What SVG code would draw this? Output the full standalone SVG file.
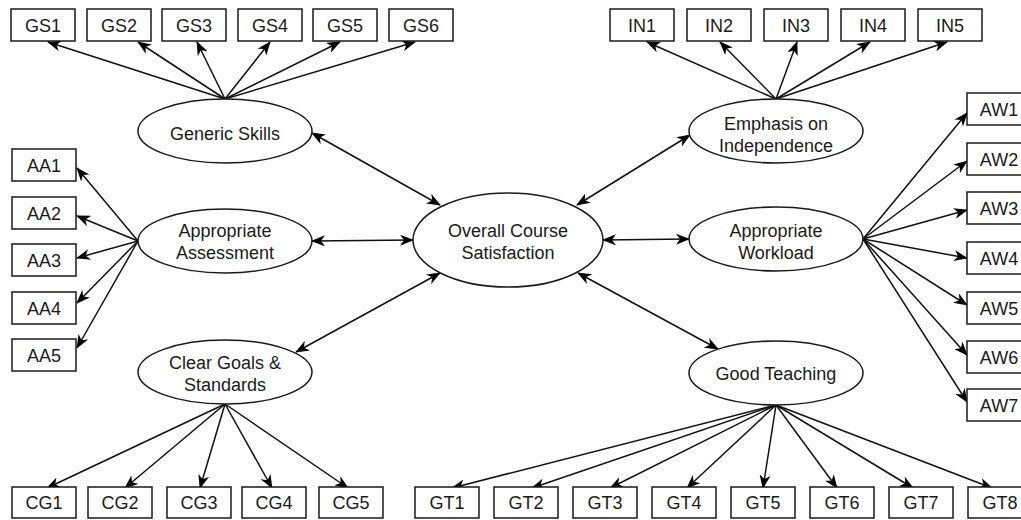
<svg xmlns="http://www.w3.org/2000/svg" width="1021" height="520" viewBox="0 0 1021 520">
<style>
.box{fill:#fff;stroke:#1a1a1a;stroke-width:1.5}
.ell{fill:#fff;stroke:#1a1a1a;stroke-width:1.5}
.t{font-family:"Liberation Sans",Arial,sans-serif;font-size:18px;fill:#1a1a1a;text-anchor:middle}
.c{stroke:#111;stroke-width:1.5;fill:none;marker-end:url(#ah)}
.b{stroke:#111;stroke-width:1.5;fill:none;marker-end:url(#ah);marker-start:url(#ah)}
</style>
<defs>
<marker id="ah" viewBox="0 0 14 11" refX="13" refY="5.5" markerWidth="14" markerHeight="11" orient="auto-start-reverse" markerUnits="userSpaceOnUse">
<path d="M0,0 L14,5.5 L0,11 L4,5.5 Z" fill="#000"/>
</marker>
</defs>
<rect width="1021" height="520" fill="#fff"/>
<g id="connectors">
<path class="c" d="M225,99 L48,42"/>
<path class="c" d="M225,99 L138,42"/>
<path class="c" d="M225,99 L197,42"/>
<path class="c" d="M225,99 L270,42"/>
<path class="c" d="M225,99 L340,42"/>
<path class="c" d="M225,99 L415,42"/>
<path class="c" d="M776,99 L647,42"/>
<path class="c" d="M776,99 L720,42"/>
<path class="c" d="M776,99 L797,42"/>
<path class="c" d="M776,99 L870,42"/>
<path class="c" d="M776,99 L947,42"/>
<path class="c" d="M138,241 L77,168"/>
<path class="c" d="M138,241 L77,216"/>
<path class="c" d="M138,241 L77,258"/>
<path class="c" d="M138,241 L77,303"/>
<path class="c" d="M138,241 L77,348"/>
<path class="c" d="M863,239 L967,113"/>
<path class="c" d="M863,239 L967,161"/>
<path class="c" d="M863,239 L967,210"/>
<path class="c" d="M863,239 L967,258"/>
<path class="c" d="M863,239 L967,305"/>
<path class="c" d="M863,239 L967,355"/>
<path class="c" d="M863,239 L967,402"/>
<path class="c" d="M225,404 L47,488"/>
<path class="c" d="M225,404 L125,488"/>
<path class="c" d="M225,404 L200,488"/>
<path class="c" d="M225,404 L272,488"/>
<path class="c" d="M225,404 L348,488"/>
<path class="c" d="M776,405 L452,488"/>
<path class="c" d="M776,405 L532,488"/>
<path class="c" d="M776,405 L610,488"/>
<path class="c" d="M776,405 L687,488"/>
<path class="c" d="M776,405 L763,488"/>
<path class="c" d="M776,405 L837,488"/>
<path class="c" d="M776,405 L913,488"/>
<path class="c" d="M776,405 L992,488"/>
<path class="b" d="M312,133 L440,205"/>
<path class="b" d="M312,241 L413,240"/>
<path class="b" d="M296,352 L440,273"/>
<path class="b" d="M690,135 L577,205"/>
<path class="b" d="M603,240 L689,239"/>
<path class="b" d="M718,349 L578,273"/>
</g>
<g id="overall"><ellipse class="ell" cx="508" cy="240" rx="95" ry="47"/><text class="t" x="508" y="236.5">Overall Course</text><text class="t" x="508" y="258.5">Satisfaction</text></g>
<g id="generic-skills"><ellipse class="ell" cx="225" cy="131" rx="87" ry="32"/><text class="t" x="225" y="139.5">Generic Skills</text></g>
<g id="appropriate-assessment"><ellipse class="ell" cx="225" cy="241" rx="87" ry="32"/><text class="t" x="225" y="236.5">Appropriate</text><text class="t" x="225" y="258.5">Assessment</text></g>
<g id="clear-goals"><ellipse class="ell" cx="225" cy="372" rx="87" ry="32"/><text class="t" x="225" y="368.5">Clear Goals &amp;</text><text class="t" x="225" y="391">Standards</text></g>
<g id="emphasis"><ellipse class="ell" cx="776" cy="131" rx="87" ry="32"/><text class="t" x="776" y="129.5">Emphasis on</text><text class="t" x="776" y="151.5">Independence</text></g>
<g id="workload"><ellipse class="ell" cx="776" cy="239" rx="87" ry="32"/><text class="t" x="776" y="236.5">Appropriate</text><text class="t" x="776" y="258.5">Workload</text></g>
<g id="good-teaching"><ellipse class="ell" cx="776" cy="373" rx="87" ry="32"/><text class="t" x="776" y="379.5">Good Teaching</text></g>
<g id="GS1"><rect class="box" x="11" y="9" width="64" height="32"/><text class="t" x="43" y="31.5">GS1</text></g>
<g id="GS2"><rect class="box" x="87" y="9" width="64" height="32"/><text class="t" x="119" y="31.5">GS2</text></g>
<g id="GS3"><rect class="box" x="162" y="9" width="64" height="32"/><text class="t" x="194" y="31.5">GS3</text></g>
<g id="GS4"><rect class="box" x="238" y="9" width="64" height="32"/><text class="t" x="270" y="31.5">GS4</text></g>
<g id="GS5"><rect class="box" x="313" y="9" width="64" height="32"/><text class="t" x="345" y="31.5">GS5</text></g>
<g id="GS6"><rect class="box" x="389" y="9" width="64" height="32"/><text class="t" x="421" y="31.5">GS6</text></g>
<g id="IN1"><rect class="box" x="610" y="9" width="64" height="32"/><text class="t" x="642" y="31.5">IN1</text></g>
<g id="IN2"><rect class="box" x="687" y="9" width="64" height="32"/><text class="t" x="719" y="31.5">IN2</text></g>
<g id="IN3"><rect class="box" x="764" y="9" width="64" height="32"/><text class="t" x="796" y="31.5">IN3</text></g>
<g id="IN4"><rect class="box" x="841" y="9" width="64" height="32"/><text class="t" x="873" y="31.5">IN4</text></g>
<g id="IN5"><rect class="box" x="918" y="9" width="64" height="32"/><text class="t" x="950" y="31.5">IN5</text></g>
<g id="AA1"><rect class="box" x="12" y="149" width="64" height="32"/><text class="t" x="44" y="171.5">AA1</text></g>
<g id="AA2"><rect class="box" x="12" y="197" width="64" height="32"/><text class="t" x="44" y="219.5">AA2</text></g>
<g id="AA3"><rect class="box" x="12" y="244" width="64" height="32"/><text class="t" x="44" y="266.5">AA3</text></g>
<g id="AA4"><rect class="box" x="12" y="292" width="64" height="32"/><text class="t" x="44" y="314.5">AA4</text></g>
<g id="AA5"><rect class="box" x="12" y="339" width="64" height="32"/><text class="t" x="44" y="361.5">AA5</text></g>
<g id="AW1"><rect class="box" x="967" y="93" width="64" height="32"/><text class="t" x="999" y="115.5">AW1</text></g>
<g id="AW2"><rect class="box" x="967" y="143" width="64" height="32"/><text class="t" x="999" y="165.5">AW2</text></g>
<g id="AW3"><rect class="box" x="967" y="192" width="64" height="32"/><text class="t" x="999" y="214.5">AW3</text></g>
<g id="AW4"><rect class="box" x="967" y="242" width="64" height="32"/><text class="t" x="999" y="264.5">AW4</text></g>
<g id="AW5"><rect class="box" x="967" y="292" width="64" height="32"/><text class="t" x="999" y="314.5">AW5</text></g>
<g id="AW6"><rect class="box" x="967" y="341" width="64" height="32"/><text class="t" x="999" y="363.5">AW6</text></g>
<g id="AW7"><rect class="box" x="967" y="389" width="64" height="32"/><text class="t" x="999" y="411.5">AW7</text></g>
<g id="CG1"><rect class="box" x="12" y="487" width="64" height="31"/><text class="t" x="44" y="509">CG1</text></g>
<g id="CG2"><rect class="box" x="88" y="487" width="64" height="31"/><text class="t" x="120" y="509">CG2</text></g>
<g id="CG3"><rect class="box" x="167" y="487" width="64" height="31"/><text class="t" x="199" y="509">CG3</text></g>
<g id="CG4"><rect class="box" x="242" y="487" width="64" height="31"/><text class="t" x="274" y="509">CG4</text></g>
<g id="CG5"><rect class="box" x="319" y="487" width="64" height="31"/><text class="t" x="351" y="509">CG5</text></g>
<g id="GT1"><rect class="box" x="415" y="487" width="64" height="31"/><text class="t" x="447" y="509">GT1</text></g>
<g id="GT2"><rect class="box" x="494" y="487" width="64" height="31"/><text class="t" x="526" y="509">GT2</text></g>
<g id="GT3"><rect class="box" x="573" y="487" width="64" height="31"/><text class="t" x="605" y="509">GT3</text></g>
<g id="GT4"><rect class="box" x="652" y="487" width="64" height="31"/><text class="t" x="684" y="509">GT4</text></g>
<g id="GT5"><rect class="box" x="731" y="487" width="64" height="31"/><text class="t" x="763" y="509">GT5</text></g>
<g id="GT6"><rect class="box" x="810" y="487" width="64" height="31"/><text class="t" x="842" y="509">GT6</text></g>
<g id="GT7"><rect class="box" x="889" y="487" width="64" height="31"/><text class="t" x="921" y="509">GT7</text></g>
<g id="GT8"><rect class="box" x="968" y="487" width="64" height="31"/><text class="t" x="1000" y="509">GT8</text></g>
</svg>
